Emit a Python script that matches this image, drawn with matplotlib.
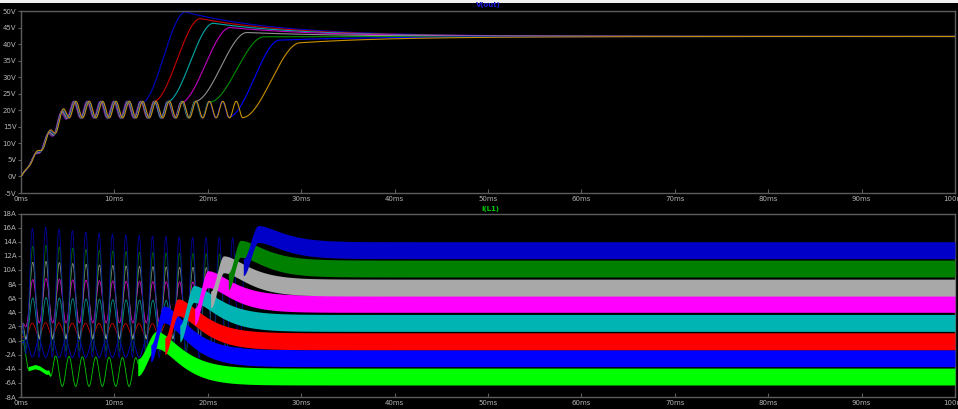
import numpy as np
import matplotlib
matplotlib.use("Agg")
import matplotlib.pyplot as plt
from matplotlib.patches import Rectangle

W, H, DPI = 958, 409, 100

# time base in ms
t = np.linspace(0, 100, 40001)
PERIOD = 1.43  # ms, low-frequency ripple before each stage locks in

x_ticks = list(range(0, 101, 10))
x_labels = [f"{v}ms" for v in x_ticks]

# ---------------- V(out) ----------------
v_ticks = list(range(-5, 51, 5))
v_labels = [f"{v}V" for v in v_ticks]
v_colors = ['#0000c8', '#c80000', '#00a8a8', '#c000c0', '#909090', '#009000', '#0000ff', '#c89000']
v_ripple_peak = [1.31, 1.35, 1.39, 1.43, 0.04, 0.08, 0.12, 0.16]   # ms, phase of ripple peaks
v_start = [12.9, 14.2, 15.6, 17.0, 18.6, 20.2, 22.2, 23.7]          # ms, leave the ripple
v_peak_t = [17.6, 19.2, 20.6, 22.4, 24.2, 26.0, 27.7, 29.9]         # ms
v_peak = [49.7, 47.7, 46.3, 45.0, 43.5, 42.2, 41.2, 40.4]           # V
v_final = 42.3
v_ripple_mean = 20.2
v_ripple_amp = 2.5

# ---------------- I(L1) ----------------
i_ticks = list(range(-8, 19, 2))
i_labels = [f"{v}A" for v in i_ticks]
i_colors = ['#00ff00', '#0000ff', '#ff0000', '#00b4b4', '#ff00ff', '#a8a8a8', '#008000', '#0000c8']
i_pre_peak = [-2.0, 0.2, 2.6, 6.3, 9.0, 11.6, 14.0, 16.7]
i_pre_trough = [-6.5, -2.4, 0.6, 0.4, 2.5, 0.2, -1.5, -2.4]
i_pre_phase = [0.85, 0.50, 1.20, 1.25, 1.25, 1.25, 1.25, 1.21]
i_start = [12.5, 13.9, 15.4, 17.0, 18.6, 20.3, 22.2, 23.8]
i_start_val = [-3.8, -1.8, -0.8, 1.0, 3.4, 5.8, 8.4, 10.4]
i_peak_t = [14.5, 15.3, 16.8, 18.5, 20.0, 21.7, 23.5, 25.4]
i_peak_top = [1.3, 4.9, 5.9, 7.8, 9.9, 12.0, 14.2, 16.3]
i_final = [-5.1, -2.5, -0.1, 2.5, 5.2, 7.5, 10.2, 12.8]
i_band = 2.4
# early wobble of the first stage's inductor current
lime_early_t = [0.0, 0.25, 0.75, 1.5, 2.0, 2.7, 3.1]
lime_early_v = [0.0, 0.0, -4.0, -3.7, -3.9, -4.5, -4.4]
lime_early_band = 0.6


def smoothstep(u):
    u = np.clip(u, 0, 1)
    return u * u * (3 - 2 * u)


def v_stage(pre, ts, tp, peak, final, tau):
    y = pre.copy()
    y0 = np.interp(ts, t, pre)
    rise = (t >= ts) & (t <= tp)
    y[rise] = y0 + (peak - y0) * smoothstep((t[rise] - ts) / (tp - ts))
    after = t > tp
    y[after] = final + (peak - final) * np.exp(-(t[after] - tp) / tau)
    return y


def i_stage(ts, y0, tp, peak, final, tau):
    tt = t[t >= ts]
    y = y0 + (peak - y0) * smoothstep((tt - ts) / (tp - ts))
    d = tt - tp
    after = d > 0
    y[after] = final + (peak - final) * (1 + d[after] / tau) * np.exp(-d[after] / tau)
    return tt, y


fig = plt.figure(figsize=(W / DPI, H / DPI), dpi=DPI, facecolor='black')
L, R = 21 / W, 955 / W
ax1 = fig.add_axes([L, (H - 193) / H, R - L, (193 - 11) / H])
ax2 = fig.add_axes([L, (H - 397) / H, R - L, (397 - 213.5) / H])

FRAME = '#5c5c5c'
TXT = '#b4b4b4'
for ax in (ax1, ax2):
    ax.set_facecolor('black')
    for s in ax.spines.values():
        s.set_color(FRAME)
        s.set_linewidth(1.0)
    ax.set_xlim(0, 100)
    ax.set_xticks(x_ticks)
    ax.set_xticklabels(x_labels)
    ax.tick_params(axis='x', direction='in', length=3, width=0.8, color=FRAME,
                   labelsize=5, labelcolor=TXT, pad=2.5)
    ax.tick_params(axis='y', direction='out', length=2.5, width=0.8, color=FRAME,
                   labelsize=5, labelcolor=TXT, pad=0.8)

# V(out) traces
ramp = np.clip(t / 5.0, 0, 1)
for k in range(8):
    pre = ramp * (v_ripple_mean + v_ripple_amp *
                  np.cos(2 * np.pi * (t - v_ripple_peak[k]) / PERIOD))
    y = v_stage(pre, v_start[k], v_peak_t[k], v_peak[k], v_final, 10.0)
    ax1.plot(t, y, color=v_colors[k], lw=0.8, zorder=2 + k)

ax1.set_ylim(-5, 50)
ax1.set_yticks(v_ticks)
ax1.set_yticklabels(v_labels)

# I(L1) traces
env = 1 - np.exp(-t / 0.35)
for k in range(8):
    span = (i_pre_peak[k] - i_pre_trough[k]) * (0.88 + 0.12 * np.exp(-t / 8))
    pre = env * (i_pre_trough[k] + span *
                 (1 + np.cos(2 * np.pi * (t - i_pre_phase[k]) / PERIOD)) / 2)
    if k == 0:
        w = smoothstep((t - 2.9) / 0.6)
        early = np.interp(t, lime_early_t, lime_early_v)
        pre = (1 - w) * early + w * pre
    ts = i_start[k]
    m_pre = t <= ts
    ax2.plot(t[m_pre], pre[m_pre], color=i_colors[k], lw=0.6, alpha=0.8, zorder=2)
    tt, center = i_stage(ts, i_start_val[k], i_peak_t[k], i_peak_top[k] - i_band / 2,
                         i_final[k], 1.7)
    ax2.fill_between(tt, center - i_band / 2, center + i_band / 2,
                     color=i_colors[k], lw=0, zorder=10 + k)
    if k == 0:
        m_e = (t >= lime_early_t[2]) & (t <= lime_early_t[-1])
        ax2.fill_between(t[m_e], pre[m_e] - lime_early_band / 2, pre[m_e] + lime_early_band / 2,
                         color=i_colors[k], lw=0, zorder=10)

ax2.set_ylim(-8, 18)
ax2.set_yticks(i_ticks)
ax2.set_yticklabels(i_labels)

fig.text(488 / W, 1 - 5.5 / H, "V(out)", color='#1a1ad8', fontsize=5, fontweight='bold',
         ha='center', va='center')
fig.text(490 / W, 1 - 209 / H, "I(L1)", color='#00c800', fontsize=5, fontweight='bold',
         ha='center', va='center')

# light strip along the top edge
fig.patches.append(Rectangle((0, 1 - 3 / H), 1, 3 / H, transform=fig.transFigure,
                             facecolor='#f0f0f0', edgecolor='none', zorder=0))

fig.savefig("out.png", dpi=DPI, facecolor='black')
